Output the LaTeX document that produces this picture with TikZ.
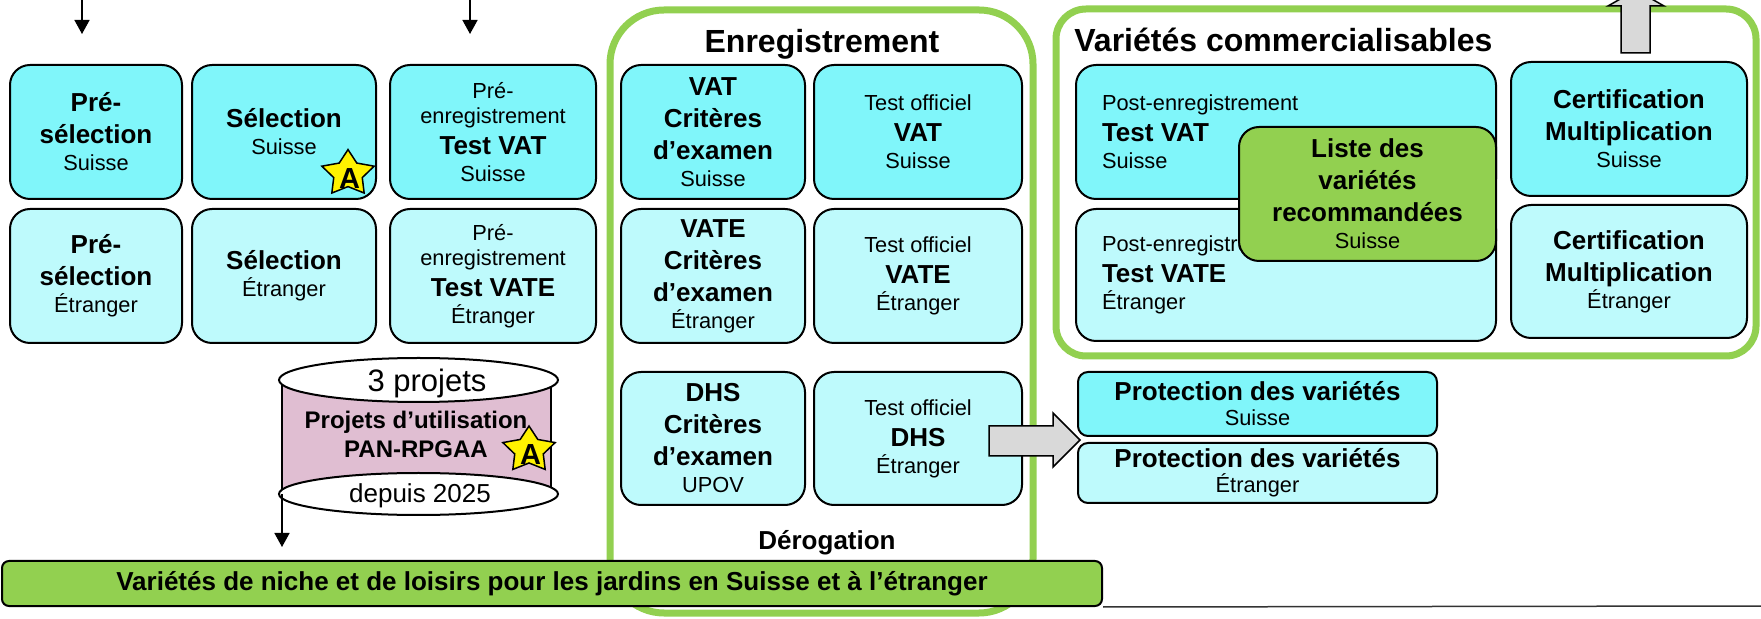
\documentclass[tikz,border=0pt]{standalone}
\usepackage{fontspec}
\setmainfont{Liberation Sans}
\usetikzlibrary{arrows.meta}
\definecolor{cyanA}{RGB}{128,246,250}
\definecolor{cyanB}{RGB}{190,250,252}
\definecolor{grn}{RGB}{146,208,80}
\definecolor{pnk}{RGB}{224,190,210}
\definecolor{gry}{RGB}{217,217,217}
\newcommand\bt[1]{{\fontsize{13}{16}\selectfont\bfseries #1}}
\newcommand\mkstar[3]{%
  \draw[starsty] (#1,#2) +(-90:27.5 and 24) -- +(-54:15 and 13) -- +(-18:27.5 and 24) -- +(18:15 and 13) -- +(54:27.5 and 24) -- +(90:15 and 13) -- +(126:27.5 and 24) -- +(162:15 and 13) -- +(198:27.5 and 24) -- +(234:15 and 13) -- cycle;
  \node[font=\fontsize{14.5}{16}\selectfont\bfseries, inner sep=0pt] (#3) at (#1+1.5,#2+5) {A};}
\begin{document}
\begin{tikzpicture}[x=0.5pt,y=-0.5pt,
  box/.style={draw, line width=1pt, rounded corners=10pt, inner sep=0pt, align=center,
    font=\fontsize{10.9}{13}\selectfont, minimum height=67pt},
  sw/.style={box, fill=cyanA},
  et/.style={box, fill=cyanB},
  frame/.style={draw=grn, line width=3.5pt, inner sep=0pt},
  arr/.style={line width=0.75pt, -{Triangle[width=7.5pt,length=7pt]}},
  blk/.style={draw, line width=0.75pt, fill=gry},
  starsty/.style={draw, line width=0.75pt, fill=yellow},
  ttl/.style={font=\fontsize{16}{19}\selectfont\bfseries, inner sep=0pt},
  bld/.style={font=\fontsize{13}{16}\selectfont\bfseries, inner sep=0pt}]
\fill[white] (0,0) rectangle (1761,619);
\useasboundingbox (0,0) rectangle (1761,619);

% containers
\node[frame, rounded corners=27pt, minimum width=211.5pt, minimum height=301.5pt] (enr) at (821.5,311.5) {};
\node[frame, rounded corners=15pt, minimum width=350pt, minimum height=173.5pt] (vc) at (1406,182.5) {};
\node[ttl, anchor=base] (tenr) at (822,53) {Enregistrement};
\node[ttl, anchor=base west] (tvc) at (1074,52) {Variétés commercialisables};

% top arrows
\coordinate (a1s) at (82,-2); \coordinate (a1e) at (82,34);
\coordinate (a2s) at (470,-2); \coordinate (a2e) at (470,34);
\draw[arr] (a1s) -- (a1e);
\draw[arr] (a2s) -- (a2e);

% left columns
\node[sw, minimum width=86pt] (c1r1) at (96,132) {\bt{Pré-}\\[3pt]\bt{sélection}\\[0.5pt]Suisse};
\node[sw, minimum width=92pt] (c2r1) at (284,132) {\bt{Sélection}\\[0.5pt]Suisse};
\node[sw, minimum width=103pt] (c3r1) at (493,132) {Pré-\\[-0.5pt]enregistrement\\[2.5pt]\bt{Test VAT}\\[0.5pt]Suisse};
\node[et, minimum width=86pt] (c1r2) at (96,276) {\bt{Pré-}\\[3pt]\bt{sélection}\\[0.5pt]Étranger};
\node[et, minimum width=92pt] (c2r2) at (284,276) {\bt{Sélection}\\[0.5pt]Étranger};
\node[et, minimum width=103pt] (c3r2) at (493,276) {Pré-\\[-0.5pt]enregistrement\\[2.5pt]\bt{Test VATE}\\[0.5pt]Étranger};

% enregistrement
\node[sw, minimum width=92pt] (e1r1) at (713,132) {\bt{VAT}\\[3pt]\bt{Critères}\\[3pt]\bt{d’examen}\\[0.5pt]Suisse};
\node[sw, minimum width=104pt] (e2r1) at (918,132) {Test officiel\\[2.5pt]\bt{VAT}\\[0.5pt]Suisse};
\node[et, minimum width=92pt] (e1r2) at (713,276) {\bt{VATE}\\[3pt]\bt{Critères}\\[3pt]\bt{d’examen}\\[0.5pt]Étranger};
\node[et, minimum width=104pt] (e2r2) at (918,276) {Test officiel\\[2.5pt]\bt{VATE}\\[0.5pt]Étranger};
\node[et, minimum width=92pt, minimum height=66.5pt] (e1r3) at (713,438.5) {\bt{DHS}\\[3pt]\bt{Critères}\\[3pt]\bt{d’examen}\\[0.5pt]UPOV};
\node[et, minimum width=104pt, minimum height=66.5pt] (e2r3) at (918,438.5) {Test officiel\\[2.5pt]\bt{DHS}\\[0.5pt]Étranger};
\node[bld, anchor=base] (der) at (827,550) {Dérogation};

% variétés commercialisables
\node[sw, minimum width=210pt, text width=184pt, align=left] (pv) at (1286,132) {Post-enregistrement\\[2.5pt]\bt{Test VAT}\\[0.5pt]Suisse};
\node[et, minimum width=210pt, minimum height=66pt, text width=184pt, align=left] (pve) at (1286,275) {Post-enregistrement\\[2.5pt]\bt{Test VATE}\\[0.5pt]Étranger};
\node[box, fill=grn, minimum width=128.5pt] (lst) at (1367.5,194) {\bt{Liste des}\\[3pt]\bt{variétés}\\[3pt]\bt{recommandées}\\[0.5pt]Suisse};
\node[sw, minimum width=118pt] (cs) at (1629,129) {\bt{Certification}\\[3pt]\bt{Multiplication}\\[0.5pt]Suisse};
\node[et, minimum width=118pt, minimum height=66.5pt] (ce) at (1629,271.5) {\bt{Certification}\\[3pt]\bt{Multiplication}\\[0.5pt]Étranger};

% protection
\node[box, fill=cyanA, rounded corners=5pt, minimum width=179.5pt, minimum height=32pt] (ps) at (1257.5,404) {\bt{Protection des variétés}\\[-0.5pt]Suisse};
\node[box, fill=cyanB, rounded corners=5pt, minimum width=179.5pt, minimum height=30pt] (pe) at (1257.5,473) {\bt{Protection des variétés}\\[-0.5pt]Étranger};

% block arrows
\draw[blk] (989,426) -- (1053,426) -- (1053,413) -- (1080,440) -- (1053,467) -- (1053,456) -- (989,456) -- cycle;
\draw[blk] (1621,53) -- (1621,6) -- (1608,6) -- (1636,-10) -- (1664,6) -- (1650,6) -- (1650,53) -- cycle;

% cylinder
\fill[pnk] (282,380) rectangle (551,494);
\draw[line width=1pt] (282,380) -- (282,494) (551,380) -- (551,494);
\draw[line width=1pt, fill=white] (418.5,494) ellipse [x radius=69.75pt, y radius=10.5pt];
\draw[line width=1pt, fill=white] (418.5,380) ellipse [x radius=69.75pt, y radius=11pt];
\node[font=\fontsize{15.5}{18}\selectfont, inner sep=0pt, anchor=base] (p3) at (427,392) {3 projets};
\node[font=\fontsize{12}{14.5}\selectfont\bfseries, inner sep=0pt, align=center] (pu) at (416,434) {Projets d’utilisation\\PAN-RPGAA};
\node[font=\fontsize{13}{15}\selectfont, inner sep=0pt, anchor=base] (dp) at (420,503) {depuis 2025};
\coordinate (cyl) at (282,494); \coordinate (cye) at (282,547);
\draw[arr] (cyl) -- (cye);

% stars
\mkstar{348}{173.6}{sa}
\mkstar{529}{450}{sb}

% bottom bar
\node[draw, line width=1pt, fill=grn, rounded corners=3.5pt, minimum width=550pt, minimum height=22.5pt, inner sep=0pt, font=\fontsize{13}{16}\selectfont\bfseries] (bar) at (552,583.5) {Variétés de niche et de loisirs pour les jardins en Suisse et à l’étranger};
\coordinate (rend) at (1761,606);
\draw[line width=0.75pt, draw=black!80] (bar.south east) -- (rend);
\end{tikzpicture}
\end{document}
